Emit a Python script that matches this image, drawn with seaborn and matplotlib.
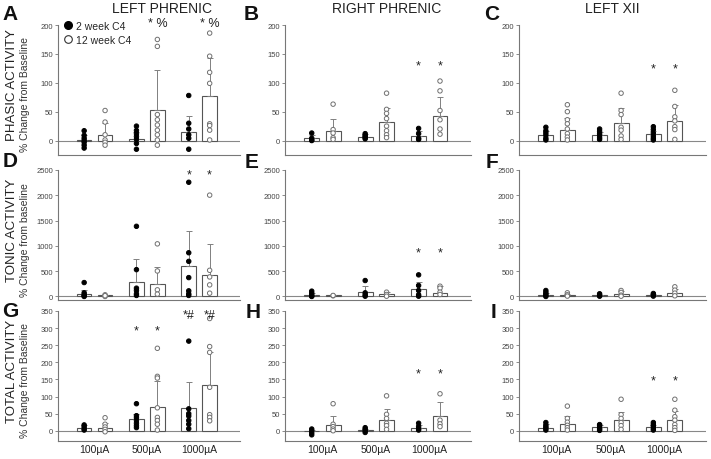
import numpy as np
import pandas as pd
import matplotlib
matplotlib.use("Agg")
import matplotlib.pyplot as plt
import seaborn as sns
from matplotlib.lines import Line2D
from matplotlib.collections import PathCollection

# ---------------- data ----------------
currents = ["100µA", "500µA", "1000µA"]
groups = ["2 week C4", "12 week C4"]

# each: [2 week values per current, 12 week values per current]
A_mean = [[1, 3.5, 15], [9, 53, 77]]
A_sd = [[9, 12, 27], [22, 69, 66]]
A_pts = [[[17, 9, 4, 0, -3, -8, -13], [25, 17.5, 12, 7, 2, -5, -15], [78, 30, 20, 10, 4, -15]],
         [[52, 32, 10, 1, -3, -8], [175, 163, 45, 36, 27, 18, 10, 1, -8], [186, 146, 118, 99, 29, 26, 18, 1]]]

B_mean = [[4, 7, 8], [17, 32, 42]]
B_sd = [[5, 4, 8], [20, 24, 34]]
B_pts = [[[13, 4, 0, 1], [12, 9, 5, 3, 7], [21, 12, 4, 2]],
         [[63, 19, 13, 5, 2], [82, 54, 47, 38, 25, 17, 10, 5], [103, 86, 52, 36, 20, 11]]]

C_mean = [[9, 10, 11], [19, 30, 33]]
C_sd = [[7, 5, 6], [20, 27, 28]]
C_pts = [[[23, 17, 13, 9, 4, 1], [20, 16, 12, 9, 5, 2], [24, 19, 13, 8, 4, 1]],
         [[62, 50, 36, 29, 20, 12, 6, 1], [82, 52, 45, 23, 18, 8, 2], [87, 59, 41, 34, 24, 19, 2]]]

D_mean = [[52, 295, 609], [20, 242, 432]]
D_sd = [[79, 438, 693], [10, 334, 602]]
D_pts = [[[275, 72, 33, 0, 15], [1387, 530, 164, 118, 52, 20], [2258, 864, 694, 373, 111, 52, 20]],
         [[33, 0, 15], [1040, 504, 131, 46], [2003, 517, 386, 229, 65]]]

E_mean = [[26, 85, 144], [20, 39, 72]]
E_sd = [[40, 112, 138], [8, 53, 131]]
E_pts = [[[105, 66, 33, 10, 0], [315, 72, 33, 5], [427, 217, 118, 33, 5]],
         [[13, 20], [85, 39, 5], [203, 164, 85, 39]]]

F_mean = [[26, 20, 26], [26, 46, 66]]
F_sd = [[40, 15, 20], [25, 53, 72]]
F_pts = [[[118, 79, 46, 20, 0], [53, 26, 5], [59, 33, 7]],
         [[72, 33, 7], [118, 79, 26, 5], [191, 125, 66, 13]]]

G_mean = [[9, 34, 67], [9, 70, 133]]
G_sd = [[7, 16, 76], [14, 75, 97]]
G_pts = [[[17, 12, 6, 2], [79, 44, 38, 30, 22, 15, 9], [262, 64, 50, 43, 30, 19, 6]],
         [[38, 19, 11, 4, -3], [241, 159, 154, 67, 39, 30, 19, 2], [328, 246, 229, 127, 47, 39, 29]]]

H_mean = [[-1, 3, 7], [18, 32, 43]]
H_sd = [[3, 3, 9], [25, 32, 41]]
H_pts = [[[5, 0, -6, -12], [9, 4, 0, -5], [22, 12, 6, 2]],
         [[79, 19, 12, 5, 0], [102, 48, 36, 22, 15, 4], [108, 31, 20, 12]]]

I_mean = [[9, 11, 11], [19, 30, 31]]
I_sd = [[12, 7, 7], [24, 25, 27]]
I_pts = [[[24, 16, 11, 7, 2], [18, 15, 9, 5, 1], [24, 18, 13, 7, 2]],
         [[72, 36, 25, 16, 9, 2], [92, 47, 36, 24, 15, 4], [92, 60, 41, 31, 18, 9, 1]]]

# significance marks: (current index, group index, text, y)
A_sig = [(1, 1, "* %", 211), (2, 1, "* %", 211)]
B_sig = [(2, 0, "*", 136), (2, 1, "*", 136)]
C_sig = [(2, 0, "*", 132), (2, 1, "*", 132)]
D_sig = [(2, 0, "*", 2500), (2, 1, "*", 2500)]
E_sig = [(2, 0, "*", 958), (2, 1, "*", 958)]
F_sig = []
G_sig = [(1, 0, "*", 304), (1, 1, "*", 304), (2, 0, "*#", 350), (2, 1, "*#", 350)]
H_sig = [(2, 0, "*", 179), (2, 1, "*", 179)]
I_sig = [(2, 0, "*", 159), (2, 1, "*", 159)]

col_titles = ["LEFT PHRENIC", "RIGHT PHRENIC", "LEFT XII"]
row_titles = ["PHASIC ACTIVITY", "TONIC ACTIVITY", "TOTAL ACTIVITY"]
row_ylabels = ["% Change from Baseline", "% Change from baseline", "% Change from Baseline"]
row_yticks = [[0, 50, 100, 150, 200], [0, 500, 1000, 1500, 2000, 2500],
              [0, 50, 100, 150, 200, 250, 300, 350]]
row_ylims = [(-25, 200), (-70, 2500), (-30, 350)]
letters = ["A", "B", "C", "D", "E", "F", "G", "H", "I"]

panels = [
    [(A_mean, A_sd, A_pts, A_sig), (B_mean, B_sd, B_pts, B_sig), (C_mean, C_sd, C_pts, C_sig)],
    [(D_mean, D_sd, D_pts, D_sig), (E_mean, E_sd, E_pts, E_sig), (F_mean, F_sd, F_pts, F_sig)],
    [(G_mean, G_sd, G_pts, G_sig), (H_mean, H_sd, H_pts, H_sig), (I_mean, I_sd, I_pts, I_sig)],
]

# ---------------- style ----------------
sns.set_theme(style="white")
plt.rcParams['font.family'] = ['Liberation Sans', 'DejaVu Sans']

W, H = 711, 460
fig = plt.figure(figsize=(W / 100, H / 100), dpi=100)

col_px = [(58, 240), (285, 471), (519, 706)]
row_px = [(26, 156), (171, 301), (312, 442)]
letter_px = [[(10, 15), (251, 15), (492, 15)],
             [(10, 162), (252, 163), (492, 163)],
             [(10, 312), (253, 313), (493, 313)]]
title_px = [(162, 9), (387, 9), (612, 9)]

SPINE = "#777777"
dodge_half = 0.2


def draw(ax, means, sds, pts, sigs, ylim, yticks, bottom_row):
    bar_rows, pt_rows = [], []
    for g, grp in enumerate(groups):
        for c, cur in enumerate(currents):
            bar_rows.append((cur, grp, means[g][c]))
            for v in pts[g][c]:
                pt_rows.append((cur, grp, v))
    bar_df = pd.DataFrame(bar_rows, columns=["current", "group", "value"])
    pt_df = pd.DataFrame(pt_rows, columns=["current", "group", "value"])

    ax.axhline(0, color="#888888", lw=0.8, zorder=1)
    sns.barplot(data=bar_df, x="current", y="value", hue="group", order=currents,
                hue_order=groups, palette={g: "white" for g in groups},
                edgecolor="#555555", linewidth=0.8, gap=0.3, errorbar=None,
                legend=False, ax=ax, zorder=2)
    for g in range(2):
        xs = np.arange(len(currents)) + (g - 0.5) * 2 * dodge_half
        m = np.array(means[g], dtype=float)
        s = np.array(sds[g], dtype=float)
        ax.errorbar(xs, m, yerr=[np.zeros_like(s), s], fmt="none", ecolor="#808080",
                    elinewidth=0.7, capsize=2, capthick=0.7, zorder=3)
    sns.stripplot(data=pt_df, x="current", y="value", hue="group", order=currents,
                  hue_order=groups, palette={groups[0]: "black", groups[1]: "white"},
                  dodge=True, jitter=False, size=3.2, linewidth=0.7, edgecolor="black",
                  legend=False, ax=ax, zorder=4)
    for coll in ax.collections:
        if isinstance(coll, PathCollection):
            fc = coll.get_facecolor()
            if len(fc) and fc[0][0] > 0.5:
                coll.set_edgecolor("#707070")

    for c, g, txt, y in sigs:
        ax.annotate(txt, (c + (g - 0.5) * 2 * dodge_half, y), xytext=(0, -5),
                    textcoords="offset points", ha="center", va="baseline",
                    fontsize=9, color="#222222", annotation_clip=False, zorder=5)

    ax.set_xlim(-0.7, 2.78)
    ax.set_ylim(*ylim)
    ax.set_yticks(yticks)
    ax.set_xlabel("")
    ax.set_ylabel("")
    sns.despine(ax=ax)
    for sp in ["left", "bottom"]:
        ax.spines[sp].set_color(SPINE)
        ax.spines[sp].set_linewidth(0.8)
    ax.tick_params(axis="y", length=2, width=0.6, color=SPINE, labelsize=5.5,
                   labelcolor="#444444", pad=1.5, left=True)
    ax.tick_params(axis="x", length=0, labelsize=7.5, labelcolor="#222222", pad=2.5,
                   labelbottom=bottom_row)


for r in range(3):
    for c in range(3):
        x0, x1 = col_px[c]
        y0, y1 = row_px[r]
        ax = fig.add_axes([x0 / W, 1 - y1 / H, (x1 - x0) / W, (y1 - y0) / H])
        means, sds, pts, sigs = panels[r][c]
        draw(ax, means, sds, pts, sigs, row_ylims[r], row_yticks[r], r == 2)
        lx, ly = letter_px[r][c]
        fig.text(lx / W, 1 - ly / H, letters[r * 3 + c], fontsize=15, fontweight="bold",
                 ha="center", va="center", color="#111111")
        if c == 0:
            ax.set_ylabel(row_ylabels[r], fontsize=7.5, color="#333333")
            ax.yaxis.set_label_coords((30 - 58) / (x1 - x0), 0.47)
            fig.text(12 / W, 1 - ((y0 + y1) / 2 - 6) / H, row_titles[r], rotation=90,
                     fontsize=9.5, ha="center", va="center", color="#222222")
        if r == 0 and c == 0:
            handles = [
                Line2D([], [], marker="o", ls="none", markersize=5.5, markerfacecolor="black",
                       markeredgecolor="black"),
                Line2D([], [], marker="o", ls="none", markersize=5.5, markerfacecolor="white",
                       markeredgecolor="#333333", markeredgewidth=0.8),
            ]
            ax.legend(handles, groups, loc="upper left", bbox_to_anchor=(0.03, 1.03),
                      frameon=False, fontsize=7.5, handlelength=0.8, handletextpad=0.4,
                      labelspacing=0.35, borderaxespad=0, borderpad=0)

for c in range(3):
    tx, ty = title_px[c]
    fig.text(tx / W, 1 - ty / H, col_titles[c], fontsize=10, ha="center", va="center",
             color="#222222")

fig.savefig("out.png", dpi=100)
